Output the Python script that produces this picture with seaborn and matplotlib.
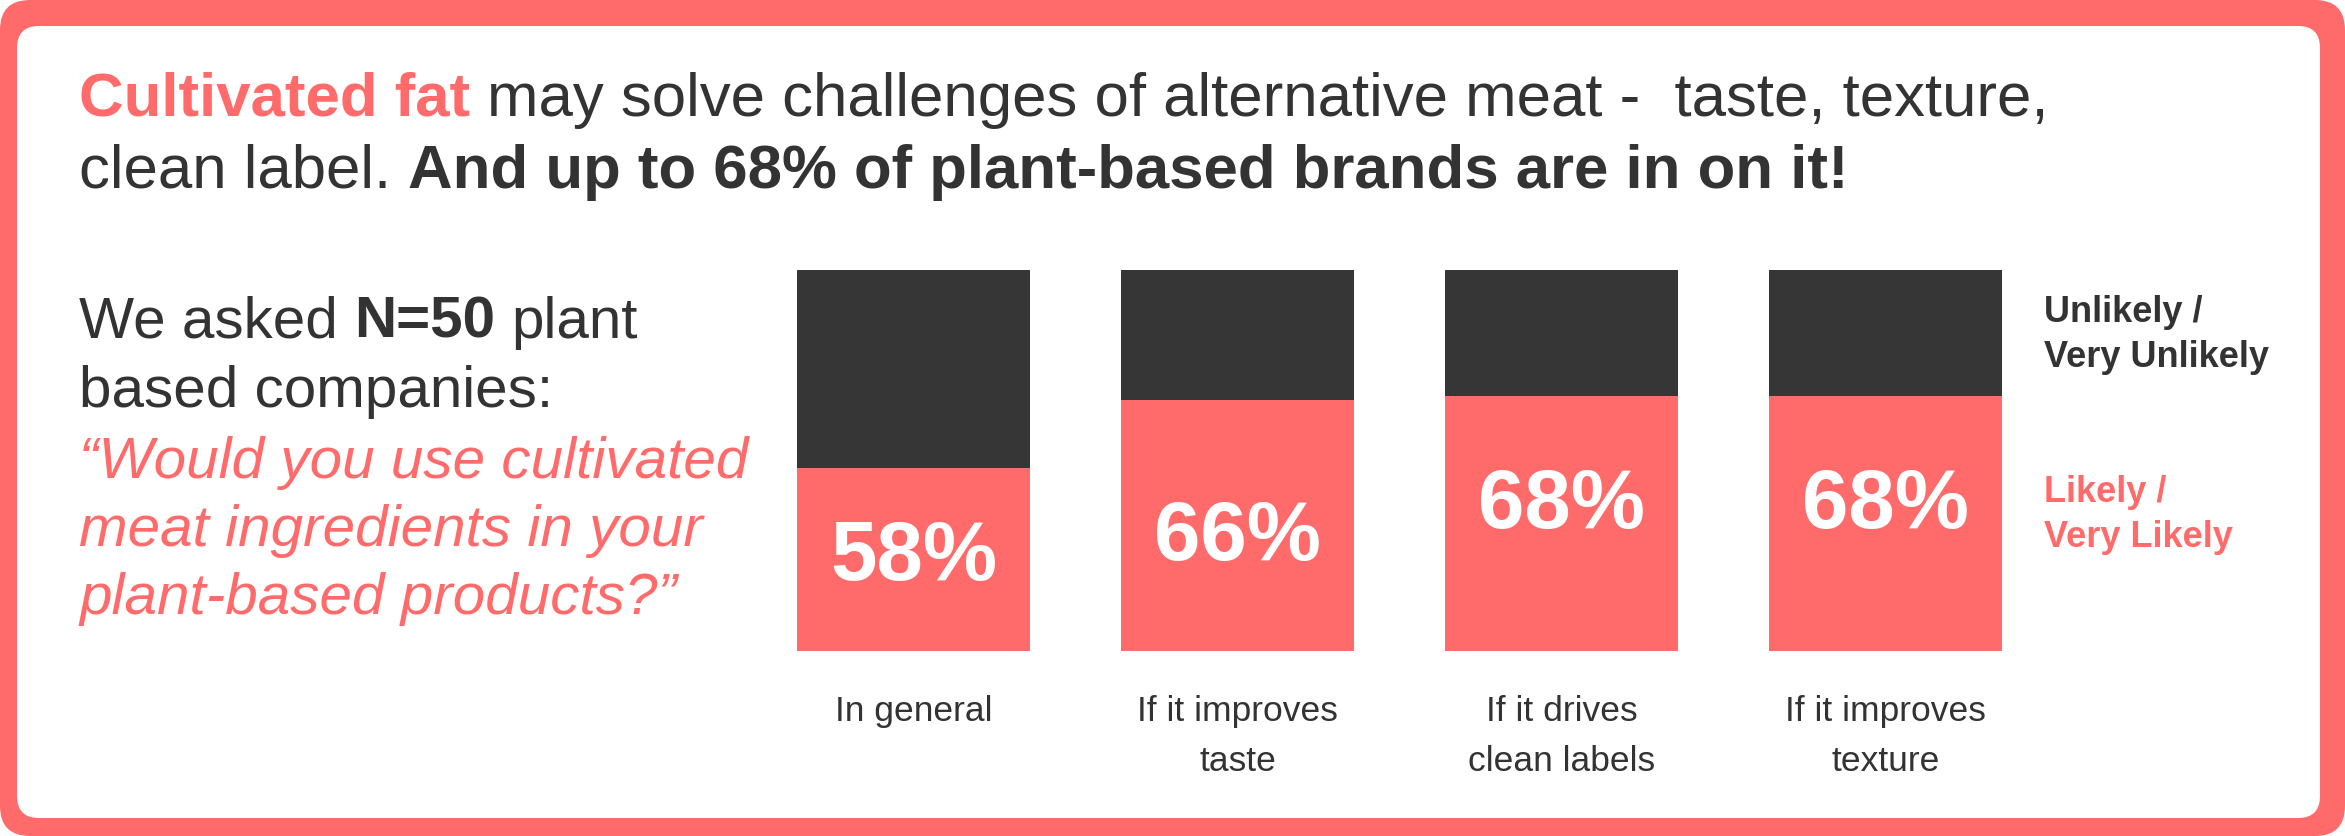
import matplotlib
matplotlib.use("Agg")
import matplotlib.pyplot as plt
import seaborn as sns
import pandas as pd
from matplotlib.patches import FancyBboxPatch
from matplotlib.transforms import IdentityTransform

# ---------------- data ----------------
categories = ["In general", "If it improves\ntaste", "If it drives\nclean labels", "If it improves\ntexture"]
total_share = [100, 100, 100, 100]          # full bar (Unlikely part shows above Likely)
likely_share = [48, 66, 67, 67]             # drawn height of the Likely / Very Likely part
likely_labels = ["58%", "66%", "68%", "68%"]
legend_labels = [["Unlikely /", "Very Unlikely"], ["Likely /", "Very Likely"]]

title_line1 = ["Cultivated fat", "may solve challenges of alternative meat -  taste, texture,"]
title_line2 = ["clean label.", "And up to 68% of plant-based brands are in on it!"]
intro_line1 = ["We asked", "N=50", "plant"]
intro_line2 = "based companies:"
question_lines = ["\u201cWould you use cultivated", "meat ingredients in your", "plant-based products?\u201d"]

# ---------------- style ----------------
CORAL = "#FF6B6B"
DARK = "#363636"
TEXT = "#333333"
W, H = 2345, 836

sns.set_theme(style="white")
plt.rcParams["font.family"] = ["Liberation Sans", "DejaVu Sans"]

fig = plt.figure(figsize=(W / 100, H / 100), dpi=100)
fig.patch.set_facecolor("white")

# frame
fig.add_artist(FancyBboxPatch((0, 0), W, H, boxstyle="round,pad=0,rounding_size=30",
                              transform=IdentityTransform(), fc=CORAL, ec="none", zorder=-3))
fig.add_artist(FancyBboxPatch((17, 18), 2303, 792, boxstyle="round,pad=0,rounding_size=22",
                              transform=IdentityTransform(), fc="white", ec="none", zorder=-2))

# ---------------- bars ----------------
ax = fig.add_axes([751.5 / W, (H - 651) / H, 1296 / W, 381 / H])
ax.set_zorder(2)
ax.set_facecolor("none")
df = pd.DataFrame({"category": categories, "total": total_share, "likely": likely_share})
sns.barplot(data=df, x="category", y="total", color=DARK, width=0.719, saturation=1,
            errorbar=None, linewidth=0, ax=ax)
sns.barplot(data=df, x="category", y="likely", color=CORAL, width=0.719, saturation=1,
            errorbar=None, linewidth=0, ax=ax)
ax.set_xlim(-0.5, 3.5)
ax.set_ylim(0, 100)
ax.set_xlabel("")
ax.set_ylabel("")
ax.set_yticks([])
for s in ax.spines.values():
    s.set_visible(False)
ax.tick_params(axis="x", length=0, pad=32)
for lbl in ax.get_xticklabels():
    lbl.set_fontsize(25.5)
    lbl.set_color(TEXT)
    lbl.set_linespacing(1.64)

label_base = [18.6, 23.8, 32.4, 32.4]
for i, lab in enumerate(likely_labels):
    ax.text(i, label_base[i], lab, ha="center", va="baseline", color="white",
            fontsize=60, fontweight="bold")

# ---------------- texts ----------------
renderer = fig.canvas.get_renderer()


def text_px(x, base, s, **kw):
    return fig.text(x / W, 1 - base / H, s, ha="left", va="baseline", **kw)


def space_width(**kw):
    a = text_px(0, 0, "aa", **kw)
    b = text_px(0, 0, "a a", **kw)
    w = b.get_window_extent(renderer).width - a.get_window_extent(renderer).width
    a.remove()
    b.remove()
    return w


def rich_line(x, base, segments):
    for txt, kw in segments:
        t = text_px(x, base, txt, **kw)
        x = t.get_window_extent(renderer).x1 + space_width(**kw)


TS = 44.5
reg = dict(fontsize=TS, color=TEXT)
bold = dict(fontsize=TS, color=TEXT, fontweight="bold")
rich_line(79, 116, [(title_line1[0], dict(fontsize=TS, color=CORAL, fontweight="bold")),
                    (title_line1[1], reg)])
rich_line(79, 188, [(title_line2[0], reg), (title_line2[1], bold)])

IS = 42
rich_line(79, 338, [(intro_line1[0], dict(fontsize=IS, color=TEXT)),
                    (intro_line1[1], dict(fontsize=IS, color=TEXT, fontweight="bold")),
                    (intro_line1[2], dict(fontsize=IS, color=TEXT))])
text_px(79, 407, intro_line2, fontsize=IS, color=TEXT)
for j, q in enumerate(question_lines):
    text_px(79, 478 + j * 68, q, fontsize=IS, color=CORAL, fontstyle="italic")

# legend
legend_colors = [TEXT, CORAL]
legend_bases = [322, 502]
for k, lines in enumerate(legend_labels):
    for j, s in enumerate(lines):
        text_px(2044, legend_bases[k] + j * 45, s, fontsize=26, fontweight="bold",
                color=legend_colors[k])

fig.savefig("out.png", dpi=100, facecolor="white")
